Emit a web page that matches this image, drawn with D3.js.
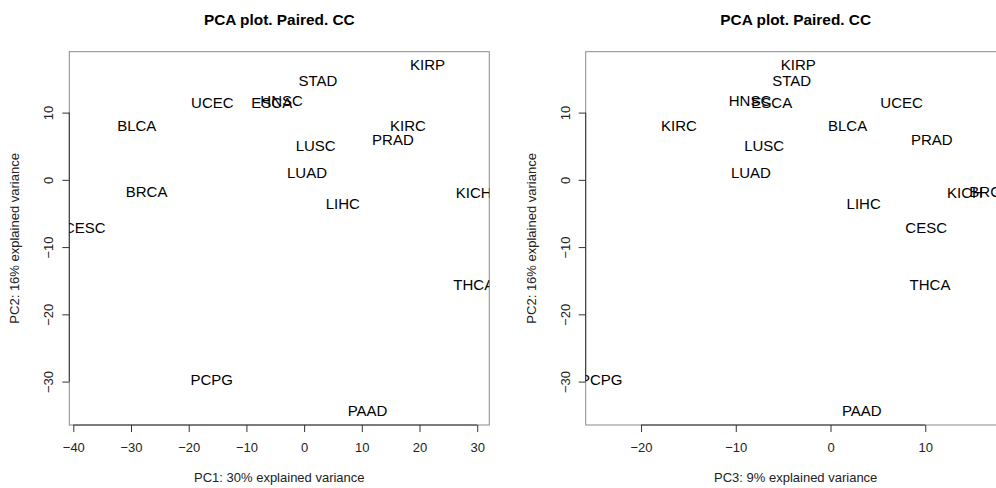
<!DOCTYPE html>
<html>
<head>
<meta charset="utf-8">
<script src="https://cdn.jsdelivr.net/npm/d3@7"></script>
<style>
  body { margin: 0; background: #fff; }
  svg { font-family: "Liberation Sans", Arial, Helvetica, sans-serif; }
  .lab { font-size: 15px; fill: #000; }
  .tick text { font-size: 13px; fill: #222; }
  .xlab, .ylab { font-size: 13px; fill: #222; }
  .title { font-size: 15.4px; font-weight: bold; fill: #000; }
</style>
</head>
<body>
<div id="chart"></div>
<script>
"use strict";

// tumour types and their PCA scores
const tumors = ["KIRP","STAD","ESCA","HNSC","UCEC","BLCA","KIRC","PRAD","LUSC","LUAD","BRCA","KICH","LIHC","CESC","THCA","PCPG","PAAD"];
const pc1 = [21.4, 2.4, -5.6, -3.9, -15.9, -29.0, 18.0, 15.4, 2.0, 0.5, -27.3, 29.4, 6.7, -38.0, 29.4, -16.0, 11.0];
const pc2 = [17.0, 14.6, 11.3, 11.7, 11.4, 8.0, 8.0, 5.8, 5.0, 1.0, -1.9, -2.0, -3.6, -7.2, -15.7, -29.8, -34.4];
const pc3 = [-3.4, -4.1, -6.2, -8.5, 7.5, 1.8, -16.0, 10.7, -7.0, -8.4, 16.85, 14.2, 3.5, 10.1, 10.5, -24.2, 3.3];

const pc1Ticks = [-40, -30, -20, -10, 0, 10, 20, 30];
const pc3Ticks = [-20, -10, 0, 10];
const pc2Ticks = [-30, -20, -10, 0, 10];

const chartTitle = "PCA plot. Paired. CC";
const xLabels = ["PC1: 30% explained variance", "PC3: 9% explained variance"];
const yLabel = "PC2: 16% explained variance";

const W = 996, H = 488;
const svg = d3.select("#chart").append("svg").attr("width", W).attr("height", H);

// R-style range: data extent padded by 4% on each side
function rRange(vals) {
  let ext = d3.extent(vals), pad = (ext[1] - ext[0]) * 0.04;
  return [ext[0] - pad, ext[1] + pad];
}

function panel(idx, left, xs, xTicks, xLab) {
  let top = 51.7, bottom = 425, right = left + 420;
  let x = d3.scaleLinear().domain(rRange(xs)).range([left, right]),
    y = d3.scaleLinear().domain(rRange(pc2)).range([bottom, top]);

  let g = svg.append("g");

  g.append("clipPath").attr("id", "clip" + idx)
    .append("rect")
    .attr("x", left).attr("y", top)
    .attr("width", right - left).attr("height", bottom - top);

  // box
  g.append("rect")
    .attr("x", left).attr("y", top)
    .attr("width", right - left).attr("height", bottom - top)
    .attr("fill", "none").attr("stroke", "#8a8a8a").attr("stroke-width", 1);

  // bottom axis
  let xa = g.append("g")
    .attr("transform", "translate(0," + bottom + ")")
    .call(d3.axisBottom(x).tickValues(xTicks).tickSize(7).tickFormat(d3.format("d")));
  xa.select(".domain").remove();
  xa.selectAll(".tick line").attr("stroke", "#333");
  xa.selectAll(".tick text").attr("y", 18).attr("dy", "0.71em");
  xa.append("line")
    .attr("x1", x(xTicks[0])).attr("x2", x(xTicks[xTicks.length - 1]))
    .attr("stroke", "#333");

  // left axis, rotated tick labels as in base R
  let ya = g.append("g")
    .attr("transform", "translate(" + left + ",0)")
    .call(d3.axisLeft(y).tickValues(pc2Ticks).tickSize(7).tickFormat(d3.format("d")));
  ya.select(".domain").remove();
  ya.selectAll(".tick line").attr("stroke", "#333");
  ya.selectAll(".tick text")
    .attr("x", null).attr("dy", null)
    .attr("text-anchor", "middle")
    .attr("transform", "translate(-16,0) rotate(-90)");
  ya.append("line")
    .attr("y1", y(pc2Ticks[0])).attr("y2", y(pc2Ticks[pc2Ticks.length - 1]))
    .attr("stroke", "#333");

  // sample labels, clipped to plot region
  g.append("g")
    .attr("clip-path", "url(#clip" + idx + ")")
    .selectAll("text")
    .data(tumors)
    .enter().append("text")
    .attr("class", "lab")
    .attr("text-anchor", "middle")
    .attr("x", (d, i) => x(xs[i]))
    .attr("y", (d, i) => y(pc2[i]) + 4.6)
    .text(d => d);

  let cx = (left + right) / 2;
  g.append("text").attr("class", "title")
    .attr("text-anchor", "middle")
    .attr("x", cx).attr("y", 25)
    .text(chartTitle);

  g.append("text").attr("class", "xlab")
    .attr("text-anchor", "middle")
    .attr("x", cx).attr("y", 482)
    .text(xLab);

  g.append("text").attr("class", "ylab")
    .attr("text-anchor", "middle")
    .attr("transform", "translate(" + (left - 50) + "," + ((top + bottom) / 2) + ") rotate(-90)")
    .text(yLabel);
}

panel(0, 69.3, pc1, pc1Ticks, xLabels[0]);
panel(1, 585.7, pc3, pc3Ticks, xLabels[1]);
</script>
</body>
</html>
